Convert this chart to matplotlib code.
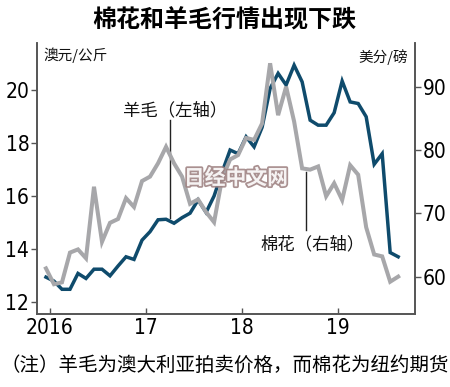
import matplotlib
matplotlib.use("Agg")
import matplotlib.pyplot as plt
import matplotlib.patheffects as pe
from matplotlib import font_manager as fm
import pandas as pd

plt.rcParams['font.family'] = ['Noto Sans CJK SC', 'DejaVu Sans']

# ---- data (monthly, Dec 2015 - Aug 2019) ----
months = pd.period_range('2015-12', '2019-08', freq='M')
wool = [12.93, 12.78, 12.47, 12.47, 13.07, 12.88, 13.23, 13.23, 12.98, 13.35,
        13.70, 13.60, 14.33, 14.65, 15.10, 15.12, 14.97, 15.18, 15.35, 15.85,
        15.38, 16.00, 16.90, 17.74, 17.60, 18.24, 17.86, 18.60, 20.07, 20.64,
        20.20, 20.95, 20.32, 18.87, 18.68, 18.68, 19.15, 20.35, 19.56, 19.50,
        19.00, 17.20, 17.60, 13.86, 13.70]
cotton = [61.3, 58.8, 59.1, 63.8, 64.3, 62.9, 74.2, 65.5, 68.5, 69.1,
          72.4, 71.0, 75.1, 75.8, 77.9, 80.5, 77.9, 75.8, 71.5, 72.2,
          70.2, 68.6, 75.5, 78.5, 79.2, 81.9, 81.6, 84.2, 93.7, 85.5,
          90.0, 84.5, 77.1, 76.9, 77.4, 72.7, 74.75, 72.1, 77.6, 76.1,
          67.8, 63.5, 63.2, 59.2, 60.0]
x = [p.year + (p.month - 0.5) / 12 for p in months]

left_ticks = [12, 14, 16, 18, 20]
right_ticks = [60, 70, 80, 90]
year_ticks = [2016, 2017, 2018, 2019]
year_labels = ['2016', '17', '18', '19']

title = '棉花和羊毛行情出现下跌'
note = '（注）羊毛为澳大利亚拍卖价格，而棉花为纽约期货'

DARK = '#0f4b6c'
GRAY = '#a7a7aa'
SPINE = '#555555'

numprop = fm.FontProperties(family='DejaVu Sans', stretch='condensed', size=15)

fig = plt.figure(figsize=(4.5, 3.87), dpi=100)
ax1 = fig.add_axes([37/450, 1-314/387, (415-37)/450, (314-43)/387])
ax2 = ax1.twinx()

ax1.plot(x, wool, color=DARK, lw=2.5, solid_joinstyle='miter')
ax2.plot(x, cotton, color=GRAY, lw=2.9, solid_joinstyle='miter')

ax1.set_xlim(2015.865, 2019.80)
ax1.set_ylim(11.535, 21.79)
ax2.set_ylim(54.1, 96.9)

for ax in (ax1, ax2):
    ax.spines['top'].set_visible(False)
    for s in ('left', 'right', 'bottom'):
        ax.spines[s].set_color(SPINE)
        ax.spines[s].set_linewidth(1.2)
    ax.patch.set_visible(False)

ax1.set_yticks(left_ticks)
ax1.set_yticklabels([str(v) for v in left_ticks], fontproperties=numprop)
ax2.set_yticks(right_ticks)
ax2.set_yticklabels([str(v) for v in right_ticks], fontproperties=numprop)
ax1.set_xticks(year_ticks)
ax1.set_xticklabels(year_labels, fontproperties=numprop)
ax1.tick_params(axis='y', direction='out', length=4, width=1, color=SPINE, pad=1.5)
ax2.tick_params(axis='y', direction='out', length=4, width=1, color=SPINE, pad=1.5)
ax1.tick_params(axis='x', direction='in', length=4, width=1, color=SPINE, pad=3)

# leader lines and series labels
ax1.plot([2017.253, 2017.253], [18.87, 15.16], color='#222222', lw=1.0)
ax2.plot([2018.667, 2018.667], [76.5, 67.4], color='#222222', lw=1.0)
ax1.text(0.2275, 0.753, '羊毛（左轴）', transform=ax1.transAxes, fontsize=12.5,
         ha='left', va='center', color='#111111')
ax1.text(0.59, 0.258, '棉花（右轴）', transform=ax1.transAxes, fontsize=12.5,
         ha='left', va='center', color='#111111')

# unit labels
fig.text(43/450, 1-55/387, '澳元/公斤', fontsize=10.5, ha='left', va='center', color='#111111')
fig.text(408/450, 1-57/387, '美分/磅', fontsize=10.5, ha='right', va='center', color='#111111')

# title and note
fig.text(224.5/450, 1-20/387, title, fontsize=17.3, fontweight='bold', ha='center', va='center')
fig.text(0.5, 1-365/387, note, fontsize=14.0, ha='center', va='center')

# watermark
fig.text(236/450, 1-178/387, '日经中文网', fontsize=15, fontweight='bold', ha='center',
         va='center', color='white', alpha=0.9,
         path_effects=[pe.withStroke(linewidth=2.5, foreground='#a08484')])

fig.savefig('out.png', dpi=100)
